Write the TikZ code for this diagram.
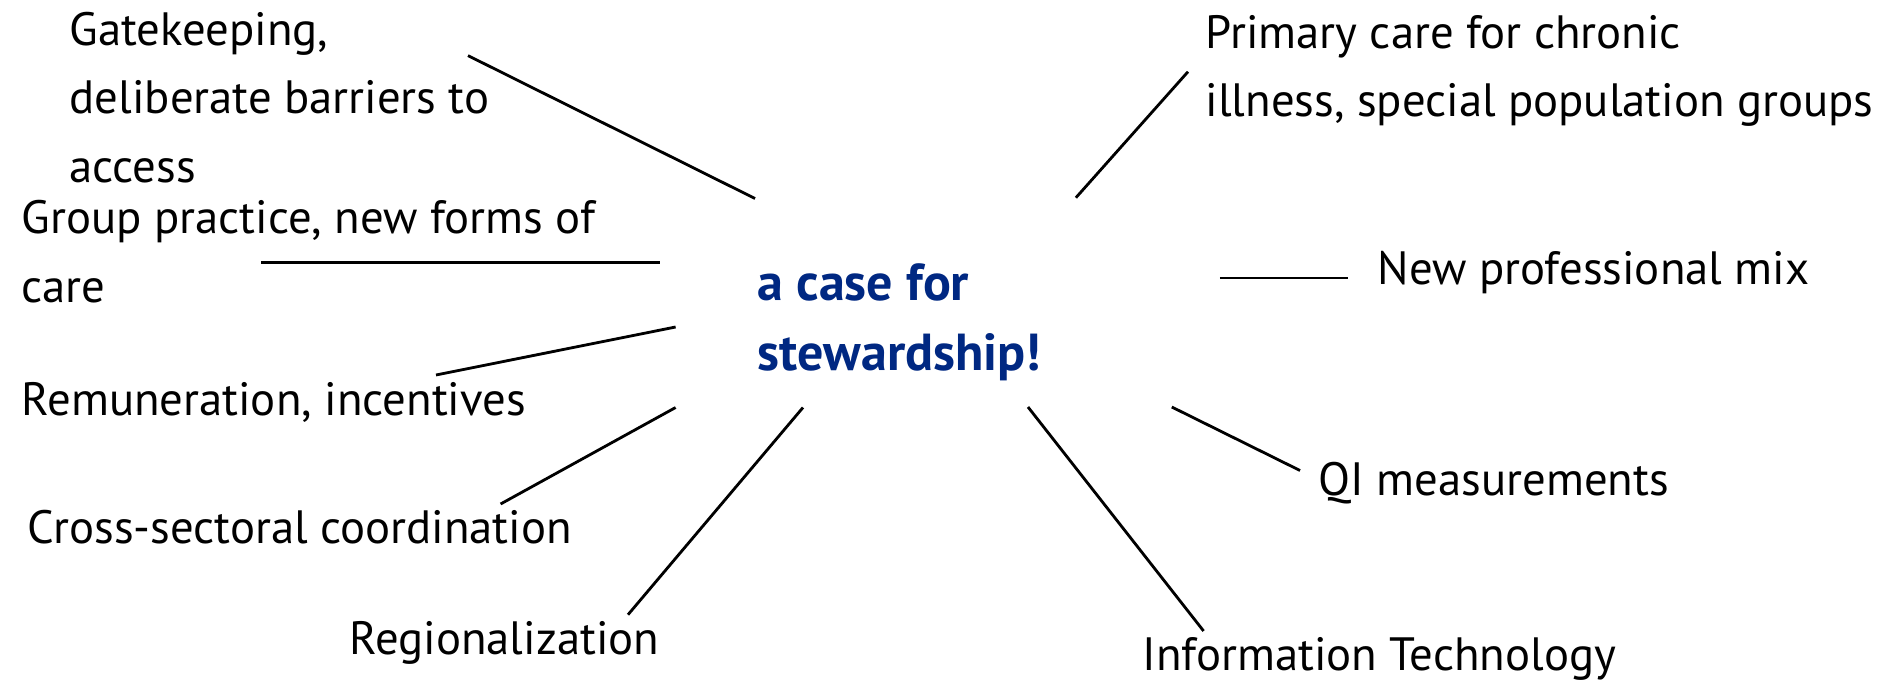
\documentclass[tikz,border=0pt]{standalone}
\usepackage{fontspec}
\setmainfont{PT Sans}

\definecolor{stewblue}{RGB}{0,40,130}

\tikzset{
    lbl/.style={anchor=base west, inner sep=0pt, align=left,
        font=\fontsize{13.3}{19.4}\selectfont},
    hub/.style={lbl, text=stewblue, font=\fontsize{14.8}{19.9}\selectfont\bfseries},
    spoke/.style={line width=0.8pt}
}

\begin{document}
\begin{tikzpicture}
    \useasboundingbox (0,0) rectangle (18.78,-6.81);

    % 中心文字 (base = 最后一行基线)
    \node[hub] (hub) at (7.57,-3.705) {a case for\\stewardship!};

    % 左侧各项
    \node[lbl] (gate) at (0.69,-1.82) {Gatekeeping,\\deliberate barriers to\\access};
    \node[lbl] (group) at (0.21,-3.02) {Group practice, new forms of\\care};
    \node[lbl] (remun) at (0.21,-4.157) {Remuneration, incentives};
    \node[lbl] (cross) at (0.27,-5.43) {Cross-sectoral coordination};
    \node[lbl] (region) at (3.49,-6.54) {Regionalization};

    % 右侧各项
    \node[lbl] (prim) at (12.05,-1.164) {Primary care for chronic\\illness, special population groups};
    \node[lbl] (mix) at (13.77,-2.845) {New professional mix};
    \node[lbl] (qi) at (13.18,-4.95) {QI measurements};
    \node[lbl] (info) at (11.42,-6.70) {Information Technology};

    % 连线端点
    \coordinate (gate-a) at (4.68,-0.556);
    \coordinate (gate-b) at (7.55,-1.985);
    \coordinate (group-a) at (2.61,-2.628);
    \coordinate (group-b) at (6.595,-2.628);
    \coordinate (remun-a) at (4.36,-3.75);
    \coordinate (remun-b) at (6.756,-3.27);
    \coordinate (cross-a) at (5.006,-5.04);
    \coordinate (cross-b) at (6.756,-4.075);
    \coordinate (region-a) at (6.28,-6.147);
    \coordinate (region-b) at (8.03,-4.075);
    \coordinate (prim-a) at (10.759,-1.977);
    \coordinate (prim-b) at (11.88,-0.717);
    \coordinate (mix-a) at (12.198,-2.78);
    \coordinate (mix-b) at (13.475,-2.78);
    \coordinate (qi-a) at (11.718,-4.07);
    \coordinate (qi-b) at (13.0,-4.705);
    \coordinate (info-a) at (10.28,-4.07);
    \coordinate (info-b) at (12.036,-6.31);

    % 连线
    \draw[spoke] (gate-a) -- (gate-b);
    \draw[spoke] (group-a) -- (group-b);
    \draw[spoke] (remun-a) -- (remun-b);
    \draw[spoke] (cross-a) -- (cross-b);
    \draw[spoke] (region-a) -- (region-b);
    \draw[spoke] (prim-a) -- (prim-b);
    \draw[spoke] (mix-a) -- (mix-b);
    \draw[spoke] (qi-a) -- (qi-b);
    \draw[spoke] (info-a) -- (info-b);
\end{tikzpicture}
\end{document}
